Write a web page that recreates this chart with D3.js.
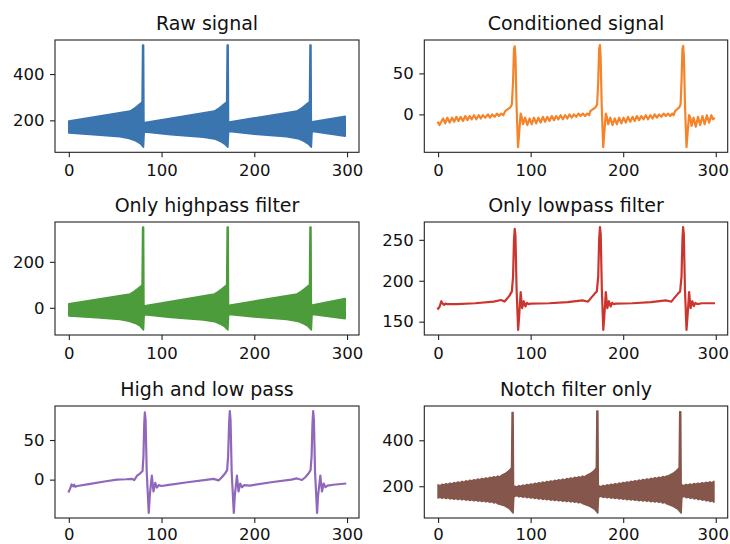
<!DOCTYPE html>
<html>
<head>
<meta charset="utf-8">
<script src="https://cdn.jsdelivr.net/npm/d3@7"></script>
<style>
  body { margin: 0; background: #fff; }
  svg { display: block; }
  text { font-family: "DejaVu Sans", sans-serif; fill: #111; }
</style>
</head>
<body>
<svg id="fig" width="730" height="544"></svg>
<script>
// ---- data --------------------------------------------------------------
const xTicks = [0, 100, 200, 300];
const xLast = 298;

// Raw signal: dense mains hum, drawn as the band between its upper and lower envelope
const rawUpper = [[0,197],[66,240],[70,250],[74,262],[78,275],[79,280],[79.6,525],[80.6,525],[81,191],[82,191],
  [157,240],[161,250],[165,262],[169,275],[170.2,280],[170.8,525],[171.8,525],[172.2,193],[173,193],
  [246,240],[250,250],[254,262],[258,275],[259.5,280],[260.1,525],[261.1,525],[261.5,194],[262.5,194],[298,217]];
const rawLower = [[0,145],[30,137],[55,129],[65,122],[72,112],[77,100],[80.5,84],[81.3,150],[82,150],
  [110,138],[145,127],[157,120],[163,110],[168,98],[171.5,84],[172.3,152],[173,152],
  [200,140],[235,129],[247,121],[253,111],[258,99],[261.5,84],[262.3,152],[263,152],[298,131]];

// Conditioned signal (all filters)
const condSignal = [[0,-10],[1.5,-13],[5.4,-5],[7.7,-11],[10,-4],[12.5,-10],[15.1,-4],[17.4,-9],[19.7,-3],[22,-8],
  [24.4,-3],[26.9,-8],[29.4,-2],[31.7,-7],[34.1,-2],[36.4,-6],[38.8,-1],[41.3,-6],[43.8,-1],[46.1,-5],[48.4,-1],
  [51.1,-4],[53.8,0],[56.1,-4],[58.5,0],[61,-3],[63.5,1],[65.8,-2],[68.2,1],[70.5,-1],
  [72.5,4],[75,6],[78,8.5],[79.7,12],[81,40],[82,80],[82.8,83],[83.6,70],[84.8,10],[86.4,-40],[87.4,-25],
  [89.2,1],[90.3,-3],[91.8,-12],[94,-4],[96.4,-13],[98.8,-5],[101.2,-12],[103.6,-4],[106,-11],[108.4,-4],
  [110.8,-10],[113.2,-3],[115.6,-9],[118,-3],[120.4,-8],[122.8,-2],[125.2,-7],[127.6,-2],[130,-6],[132.4,-1],
  [134.8,-6],[137.2,-1],[139.6,-5],[142,0],[144.4,-4],[146.8,0],[149.2,-3],[151.6,1],[154,-2],[156.4,1],
  [158.8,-2],[161.2,1],[163.2,-1],
  [164.5,4],[167,6],[170,8.5],[171.8,12],[173,40],[174,80],[174.8,84.5],[175.6,70],[176.8,10],[178.4,-40],[179.4,-25],
  [181.2,1],[182.3,-3],[183.8,-12],[186,-4],[188.4,-13],[190.8,-5],[193.2,-12],[195.6,-4],[198,-11],[200.4,-4],
  [202.8,-10],[205.2,-3],[207.6,-9],[210,-3],[212.4,-8],[214.8,-2],[217.2,-7],[219.6,-2],[222,-6],[224.4,-1],
  [226.8,-6],[229.2,-1],[231.6,-5],[234,0],[236.4,-4],[238.8,0],[241.2,-3],[243.6,1],[246,-2],[248.4,1],
  [250.8,-2],[253,1],[254.5,-1],
  [256,4],[258,6],[260.5,8.5],[262,12],[263,40],[264,80],[264.8,83.5],[265.6,70],[266.8,10],[268.4,-40],[269.4,-25],
  [271.2,-1],[272.6,-4],[273.8,-14],[276,-4],[278.4,-15],[280.8,-3],[283.2,-13],[285.6,-2],[288,-12],[290.4,-1],
  [292.8,-10],[295.2,-1],[297,-6],[298,-5]];

// Only highpass filter: same band, baseline removed
const hpUpper = [[0,17],[66,60],[70,70],[74,82],[78,95],[79,100],[79.6,351],[80.6,351],[81,9],[82,9],
  [157,60],[161,70],[165,82],[169,95],[170.2,100],[170.8,351],[171.8,351],[172.2,11],[173,11],
  [246,60],[250,70],[254,82],[258,95],[259.5,100],[260.1,351],[261.1,351],[261.5,12],[262.5,12],[298,40]];
const hpLower = [[0,-35],[30,-43],[55,-51],[65,-58],[72,-68],[77,-80],[80.5,-96],[81.3,-30],[82,-30],
  [110,-42],[145,-53],[157,-60],[163,-70],[168,-82],[171.5,-96],[172.3,-29],[173,-29],
  [200,-40],[235,-51],[247,-59],[253,-69],[258,-81],[261.5,-96],[262.3,-29],[263,-29],[298,-47]];

// Only lowpass filter
const lpSignal = [[0,166],[1.5,168],[3.5,175],[5,172],[6.5,170.5],[8,172],[10,171.5],[20,171.5],[40,172.5],
  [60,174.5],[68,176.5],[71.8,174.6],[77,181.5],[79.7,187],[81,205],[82,250],[82.8,263.5],[83.6,255],[84.8,190],
  [86.5,140],[87.5,155],[89.2,186],[90.8,166.5],[92.6,175],[94.4,168.5],[96,173],[98,171.5],[100,172],
  [120,172.5],[140,174],[156,176],[160,175],[162,174.5],[166,180],[169,184],[171.5,187],[173,205],[174,250],
  [174.9,265.5],[175.7,257],[176.9,190],[178.5,140],[179.5,155],[181.2,186],[182.8,166.5],[184.6,175],
  [186.4,168.5],[188,173],[190,171.5],[192,172],[210,172.5],[230,174],[246,176],[250,175],[252,174.5],
  [256,180],[259,184],[261.5,187],[263,205],[264,250],[264.7,265.5],[265.5,257],[266.7,190],[268.4,140],
  [269.4,155],[271.2,186],[272.8,166.5],[274.6,175],[276.4,169],[278,173],[280,171.5],[285,172.5],[298,172.5]];

// High and low pass
const hlSignal = [[0,-15],[1.2,-12],[3,-6],[4.7,-8.5],[5.8,-6.5],[7,-9],[9,-8],[20,-6],[40,-2],[52,0],
  [62,0.5],[68,1],[70.5,-0.5],[73.7,5],[77,8],[79.5,11],[80.5,30],[81.3,70],[82,85],[82.8,75],[84,10],
  [86.2,-42],[87.3,-20],[89.5,5],[91.3,-15],[93.2,-4],[95,-10],[97,-7],[100,-8],[106,-7],[130,-3],[150,0],
  [156,1],[161.5,-1],[165,3],[168,7],[170.7,12],[171.8,30],[172.8,70],[173.6,86.5],[174.4,75],[175.6,10],
  [177.9,-42],[179,-20],[181.3,5],[183,-15],[184.8,-5],[186.8,-9.5],[189,-7],[195,-7.5],[220,-3],[240,0],
  [246,1.5],[251.5,-0.5],[255,3],[258,7],[260.7,12],[261.8,30],[262.7,70],[263.5,86.5],[264.3,75],
  [265.5,10],[267.7,-42],[268.8,-20],[271.2,5],[273,-15],[274.8,-5],[276.8,-9.5],[279,-7.5],[285,-6.5],[298,-5]];

// Notch filter only: band envelope, edges keep the residual ripple
const notchUpper = [
  [0,206],[2.2,202],[4.3,208.5],[6.5,204.5],[8.6,211],[10.8,207],[12.9,213.6],[15.1,209.5],[17.2,216.1],[19.4,212],
  [21.5,218.7],[23.7,214.5],[25.8,221.2],[28,217],[30.1,223.8],[32.3,219.5],[34.4,226.3],[36.6,222.5],[38.7,228.8],
  [40.9,225],[43,231.4],[45.2,227.5],[47.3,233.9],[49.5,230],[51.6,236.4],[53.8,232.5],[55.9,239],[58.1,235],
  [60.2,241.5],[62.4,237.5],[64.5,244],[66.7,240],[68,246],
  [72,254],[75,262],[78,274],[79.4,281],[80,521],[81,521],[81.5,200],
  [83,200],[85.2,196],[87.3,202.6],[89.5,199],[91.6,205.2],[93.8,201.5],[95.9,207.7],[98.1,204],[100.2,210.3],
  [102.4,206.5],[104.5,212.9],[106.7,209],[108.8,215.5],[111,212],[113.1,218],[115.3,214.5],[117.4,220.6],
  [119.6,217],[121.7,223.2],[123.9,219.5],[126,225.8],[128.2,222],[130.3,228.4],[132.5,224.5],[134.6,230.9],
  [136.8,227],[138.9,233.5],[141.1,230],[143.2,236.1],[145.4,232.5],[147.5,238.7],[149.7,235],[151.8,241.2],
  [154,237.5],[156.1,243.8],[158.3,240],[160,246],
  [164,254],[167,262],[170,274],[171,281],[171.6,527],[172.6,527],[173.1,201],
  [174,201],[176.2,197.5],[178.3,203.6],[180.5,200],[182.6,206.2],[184.8,202.5],[186.9,208.7],[189.1,205],
  [191.2,211.3],[193.4,207.5],[195.5,213.9],[197.7,210],[199.8,216.5],[202,213],[204.1,219],[206.3,215.5],
  [208.4,221.6],[210.6,218],[212.7,224.2],[214.9,220.5],[217,226.8],[219.2,223],[221.3,229.4],[223.5,225.5],
  [225.6,231.9],[227.8,228],[229.9,234.5],[232.1,231],[234.2,237.1],[236.4,233.5],[238.5,239.7],[240.7,236],
  [242.8,242.2],[245,238.5],[247.1,244.8],[249,246],
  [253,254],[256,262],[259,274],[260.5,281],[261.1,524],[262.1,524],[262.6,206],
  [263.5,206],[265.7,202],[267.8,207.9],[270,204],[272.1,209.7],[274.3,206],[276.4,211.6],[278.6,207.5],
  [280.7,213.5],[282.9,209.5],[285,215.4],[287.2,211.5],[289.3,217.2],[291.5,213],[293.6,219.1],[295.8,215],[298,221]];
const notchLower = [
  [0,149],[2.2,153],[4.3,147.6],[6.5,152],[8.6,146.2],[10.8,150.5],[12.9,144.8],[15.1,149],[17.2,143.4],[19.4,147.5],
  [21.5,142],[23.7,146.5],[25.8,140.6],[28,145],[30.1,139.4],[32.3,143.5],[34.4,138],[36.6,142],[38.7,136.5],
  [40.9,140.5],[43,135],[45.2,139],[47.3,133.5],[49.5,137.5],[51.6,132],[53.8,136],[55.9,130.4],[58.1,133.5],
  [60.2,127.5],[62.4,130.5],[64.5,123.5],
  [72,115],[77,103],[81,84],[81.8,156],
  [83,156],[85.2,160],[87.3,154],[89.5,158],[91.6,152.2],[93.8,156],[95.9,150.3],[98.1,154.5],[100.2,148.4],
  [102.4,152.5],[104.5,146.5],[106.7,150.5],[108.8,144.6],[111,148.5],[113.1,142.6],[115.3,147],[117.4,141],
  [119.6,145],[121.7,139.4],[123.9,143.5],[126,137.8],[128.2,142],[130.3,136.3],[132.5,140.5],[134.6,134.8],
  [136.8,139],[138.9,133.3],[141.1,137.5],[143.2,131.8],[145.4,136],[147.5,130.2],[149.7,134],[151.8,127.8],
  [154,131],[156.1,124.5],
  [164,113],[169,101],[172.5,84],[173.3,153],
  [174,153],[176.2,157],[178.3,151.3],[180.5,155.5],[182.6,149.7],[184.8,154],[186.9,148.1],[189.1,152],
  [191.2,146.4],[193.4,150.5],[195.5,144.7],[197.7,149],[199.8,143],[202,147],[204.1,141.4],[206.3,145.5],
  [208.4,140],[210.6,144],[212.7,138.5],[214.9,142.5],[217,137],[219.2,141],[221.3,135.6],[223.5,140],
  [225.6,134.2],[227.8,138.5],[229.9,132.7],[232.1,137],[234.2,131.3],[236.4,135.5],[238.5,129.8],[240.7,133.5],
  [242.8,127],[245,130],[247.1,123.6],
  [254,113],[259,101],[262.6,84],[263.4,153],
  [264,153],[266.2,156.5],[268.3,150.2],[270.5,153.5],[272.6,147.4],[274.8,151],[276.9,144.7],[279.1,148.5],
  [281.2,142],[283.4,145.5],[285.5,139.2],[287.7,143],[289.8,136.4],[292,140],[294.1,133.6],[296.3,137],[298,131]];

// ---- layout --------------------------------------------------------------
const panels = [
  { title: "Raw signal",           band: [rawUpper, rawLower],     color: "#3a75b0", yTicks: [200, 400],      box: [55, 40, 359, 152.3],      xPad: 7 },
  { title: "Conditioned signal",   line: condSignal,               color: "#f5832a", yTicks: [0, 50],         box: [424.3, 40, 727.7, 152.3], xPad: 7 },
  { title: "Only highpass filter", band: [hpUpper, hpLower],       color: "#4c9c3c", yTicks: [0, 200],        box: [55, 222, 359, 335],       xPad: 7 },
  { title: "Only lowpass filter",  line: lpSignal,                 color: "#cc352e", yTicks: [150, 200, 250], box: [424.3, 222, 727.7, 335],  xPad: 7 },
  { title: "High and low pass",    line: hlSignal,                 color: "#9068bb", yTicks: [0, 50],         box: [55, 406, 359, 518],       xPad: 5 },
  { title: "Notch filter only",    band: [notchUpper, notchLower], color: "#85564b", yTicks: [200, 400],      box: [424.3, 406, 727.7, 518],  xPad: 5 }
];

const W = 730;
const svg = d3.select("#fig");
const pad = 0.05;

panels.forEach((p, i) => {
  const [x0, y0, x1, y1] = p.box;
  const pts = p.band ? p.band[0].concat(p.band[1]) : p.line;
  const [ymin, ymax] = d3.extent(pts, d => d[1]);
  const ySpan = ymax - ymin;

  const x = d3.scaleLinear().domain([-pad * xLast, xLast * (1 + pad)]).range([x0, x1]);
  const y = d3.scaleLinear().domain([ymin - pad * ySpan, ymax + pad * ySpan]).range([y1, y0]);

  const g = svg.append("g");
  const clipId = "clip" + i;
  svg.append("clipPath").attr("id", clipId)
    .append("rect").attr("x", x0).attr("y", y0).attr("width", x1 - x0).attr("height", y1 - y0);

  const line = d3.line().x(d => x(d[0])).y(d => y(d[1]));
  const plot = g.append("g").attr("clip-path", `url(#${clipId})`);

  if (p.band) {
    const outline = p.band[0].concat(p.band[1].slice().reverse());
    plot.append("path")
      .attr("d", line(outline) + "Z")
      .attr("fill", p.color)
      .attr("stroke", p.color)
      .attr("stroke-width", 1.6)
      .attr("stroke-linejoin", "round");
  } else {
    plot.append("path")
      .attr("d", line(p.line))
      .attr("fill", "none")
      .attr("stroke", p.color)
      .attr("stroke-width", 2.2)
      .attr("stroke-linejoin", "round")
      .attr("stroke-linecap", "square");
  }

  // axes
  const xAxis = g.append("g").attr("transform", `translate(0,${y1})`)
    .call(d3.axisBottom(x).tickValues(xTicks).tickSize(5).tickPadding(p.xPad).tickFormat(d3.format("d")));
  const yAxis = g.append("g").attr("transform", `translate(${x0},0)`)
    .call(d3.axisLeft(y).tickValues(p.yTicks).tickSize(5).tickPadding(5.5).tickFormat(d3.format("d")));
  [xAxis, yAxis].forEach(a => {
    a.select(".domain").remove();
    a.selectAll(".tick line").attr("stroke", "#222").attr("stroke-width", 1.1);
    a.selectAll(".tick text").attr("font-size", 16.5).attr("fill", "#111")
      .style("font-family", '"DejaVu Sans", sans-serif');
  });

  // keep the outermost x labels inside the figure
  xAxis.selectAll(".tick text").each(function () {
    const b = this.getBBox();
    const tx = this.parentNode.transform.baseVal.consolidate().matrix.e;
    const overflow = tx + b.x + b.width - (W - 1);
    if (overflow > 0) d3.select(this).attr("x", -overflow);
  });

  // frame
  g.append("rect")
    .attr("x", x0).attr("y", y0).attr("width", x1 - x0).attr("height", y1 - y0)
    .attr("fill", "none").attr("stroke", "#222").attr("stroke-width", 1.1);

  g.append("text")
    .attr("x", (x0 + x1) / 2).attr("y", y0 - 10.5)
    .attr("text-anchor", "middle")
    .attr("font-size", 19)
    .text(p.title);
});
</script>
</body>
</html>
